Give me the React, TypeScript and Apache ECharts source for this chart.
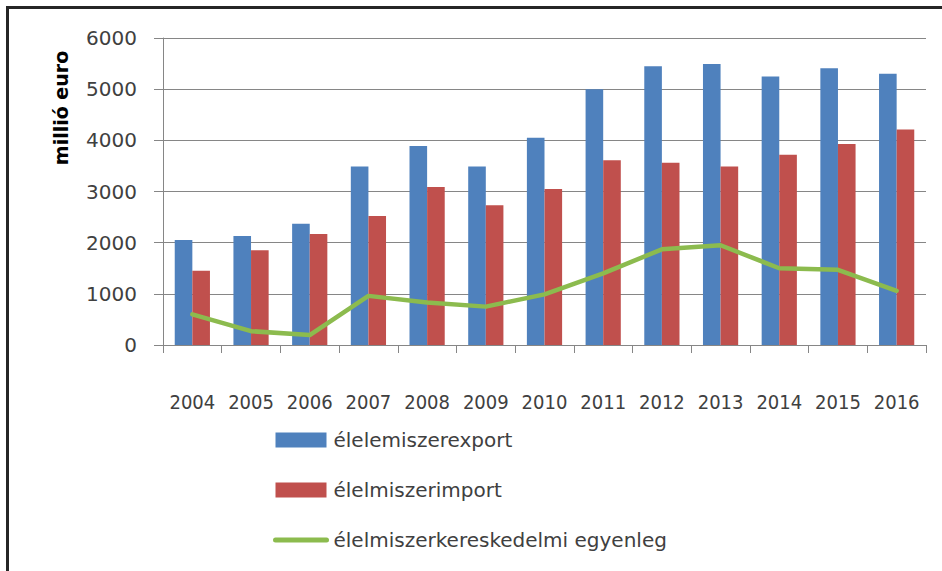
import React, { useEffect, useRef } from "react";
import * as echarts from "echarts";

const years = ["2004", "2005", "2006", "2007", "2008", "2009", "2010", "2011", "2012", "2013", "2014", "2015", "2016"];
const exportValues = [2050, 2130, 2370, 3490, 3890, 3490, 4050, 5000, 5450, 5490, 5250, 5410, 5300];
const importValues = [1450, 1850, 2170, 2520, 3090, 2730, 3050, 3610, 3560, 3490, 3720, 3930, 4210];
const balanceValues = [600, 270, 195, 960, 830, 750, 990, 1400, 1870, 1950, 1500, 1470, 1060];
const seriesNames = ["élelemiszerexport", "élelmiszerimport", "élelmiszerkereskedelmi egyenleg"];
const yAxisTitle = "millió euro";

export default function App() {
  const ref = useRef<HTMLDivElement>(null);
  useEffect(() => {
    if (!ref.current) return;
    const chart = echarts.init(ref.current, undefined, { renderer: "svg" });
    const gray = "#868686";
    const textColor = "#404040";
    chart.setOption({
      animation: false,
      backgroundColor: "#ffffff",
      grid: { left: 163, right: 16, top: 38, bottom: 226, containLabel: false },
      xAxis: {
        type: "category",
        data: years,
        axisLine: { lineStyle: { color: gray, width: 1 } },
        axisTick: { show: true, length: 8, lineStyle: { color: gray } },
        axisLabel: {
          color: textColor,
          fontSize: 20,
          fontFamily: "'Liberation Sans Narrow', 'DejaVu Sans Condensed', 'Liberation Sans', sans-serif",
          margin: 47,
          interval: 0,
        },
      },
      yAxis: {
        type: "value",
        min: 0,
        max: 6000,
        interval: 1000,
        axisLine: { show: true, lineStyle: { color: gray, width: 1 } },
        axisTick: { show: true, length: 9, lineStyle: { color: gray } },
        splitLine: { show: true, lineStyle: { color: gray, width: 1 } },
        axisLabel: {
          color: textColor,
          fontSize: 20,
          fontFamily: "'DejaVu Sans', sans-serif",
          margin: 26,
          formatter: (v: number) => String(v),
        },
      },
      legend: {
        orient: "vertical",
        left: 273,
        top: 430,
        padding: 0,
        itemWidth: 51,
        itemHeight: 15,
        itemGap: 30,
        textStyle: {
          color: textColor,
          fontSize: 20,
          fontFamily: "'DejaVu Sans', sans-serif",
          padding: [0, 0, 0, 2],
        },
        data: [
          { name: seriesNames[0], icon: "rect" },
          { name: seriesNames[1], icon: "rect" },
          { name: seriesNames[2], itemStyle: { opacity: 0 }, lineStyle: { width: 5, color: "#8CBB4E" } },
        ],
      },
      graphic: [
        { type: "rect", shape: { x: 6, y: 6, width: 936, height: 3 }, style: { fill: "#262626" } },
        { type: "rect", shape: { x: 6, y: 6, width: 3, height: 565 }, style: { fill: "#262626" } },
        {
          type: "text",
          x: 61,
          y: 108,
          rotation: Math.PI / 2,
          style: {
            text: yAxisTitle,
            fontSize: 19,
            fontWeight: "bold",
            fontFamily: "'DejaVu Sans', sans-serif",
            fill: "#000000",
            align: "center",
            verticalAlign: "middle",
          },
        },
      ],
      series: [
        {
          name: seriesNames[0],
          type: "bar",
          data: exportValues,
          barGap: "0%",
          barCategoryGap: "40%",
          itemStyle: { color: "#4F81BD" },
        },
        {
          name: seriesNames[1],
          type: "bar",
          data: importValues,
          barGap: "0%",
          barCategoryGap: "40%",
          itemStyle: { color: "#C0504D" },
        },
        {
          name: seriesNames[2],
          type: "line",
          data: balanceValues,
          symbol: "none",
          lineStyle: { color: "#8CBB4E", width: 4.5, join: "round", cap: "round" },
          itemStyle: { color: "#8CBB4E" },
        },
      ],
    });
    return () => chart.dispose();
  }, []);
  return (
    <div
      ref={ref}
      style={{ position: "fixed", left: 0, top: 0, width: 942, height: 571, background: "#fff" }}
    />
  );
}
